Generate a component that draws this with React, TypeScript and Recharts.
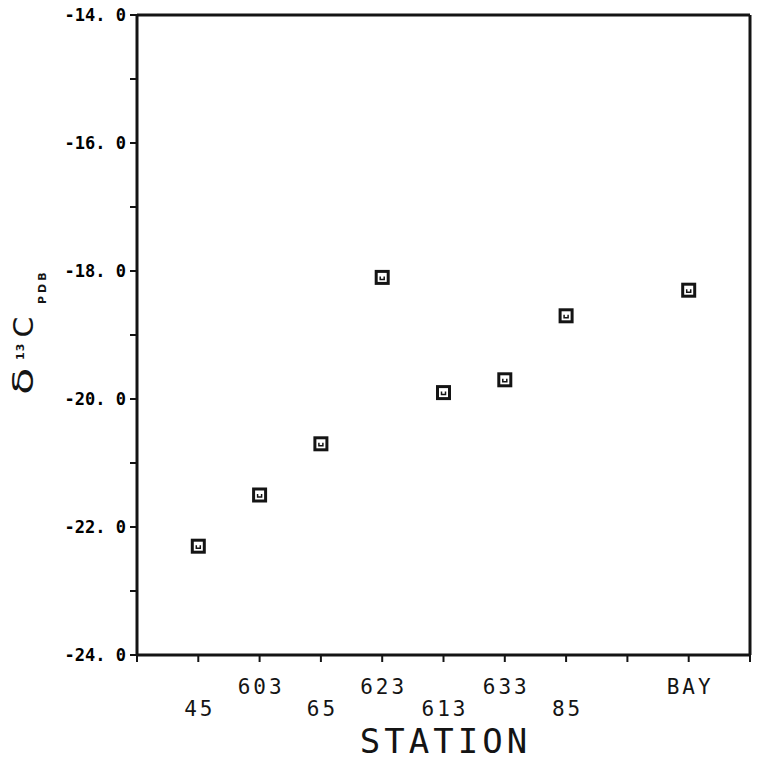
import { ScatterChart, Scatter, XAxis, YAxis } from "recharts";

// station order along the x axis and their d13C (POC) values
const stations = ["45", "603", "65", "623", "613", "633", "85", "BAY"];
const stationPos = [1, 2, 3, 4, 5, 6, 7, 9];
const d13C = [-22.3, -21.5, -20.7, -18.1, -19.9, -19.7, -18.7, -18.3];

const xTicks = [0, 1, 2, 3, 4, 5, 6, 7, 8, 9, 10];
const yTicks = [-24, -23, -22, -21, -20, -19, -18, -17, -16, -15, -14];
const yLabelled = [-24, -22, -20, -18, -16, -14];
// which stations sit on the upper row of the staggered labels
const upperRow = ["603", "623", "633", "BAY"];

const INK = "#141414";
const plotFont = "'DejaVu Sans Mono', monospace";

const points = stations.map((s, i) => ({ station: s, x: stationPos[i], y: d13C[i] }));

function StationTick(props: any) {
  const { x, y, payload } = props;
  const idx = stationPos.indexOf(payload.value);
  if (idx < 0) return <g />;
  const name = stations[idx];
  const up = upperRow.includes(name);
  return (
    <text
      x={x + 1.5}
      y={y + (up ? 30 : 52)}
      textAnchor="middle"
      fontFamily={plotFont}
      fontSize={21}
      letterSpacing={3}
      fill={INK}
    >
      {name}
    </text>
  );
}

function ValueTick(props: any) {
  const { x, y, payload } = props;
  if (!yLabelled.includes(payload.value)) return <g />;
  const label = payload.value.toFixed(1).replace(".", ". ");
  return (
    <text x={x} y={y + 6} textAnchor="end" fontFamily={plotFont} fontWeight="bold" fontSize={17} fill="#000">
      {label}
    </text>
  );
}

const NoTick = () => <g />;

function Marker(props: any) {
  const { cx, cy } = props;
  return (
    <g>
      <rect x={cx - 6} y={cy - 6} width={12} height={12} fill="#fff" stroke={INK} strokeWidth={3} />
      <path d={`M${cx - 2},${cy - 1} v3 h4 v-3`} fill="none" stroke={INK} strokeWidth={1.5} />
    </g>
  );
}

function YTitle(props: any) {
  const vb = props.viewBox || {};
  const cx = 33;
  const cy = vb.y + vb.height / 2 + 60;
  return (
    <g transform={`translate(${cx},${cy}) rotate(-90)`} fill={INK} fontFamily="'DejaVu Sans', sans-serif">
      <text x={0} y={0} fontSize={28} transform="scale(1.6,1)">δ</text>
      <text x={35} y={-9} fontSize={11} fontWeight="bold" letterSpacing={1}>13</text>
      <text x={50} y={0} fontSize={26} transform="scale(1.15,1)">C</text>
      <text x={91} y={13} fontSize={11} fontWeight="bold" letterSpacing={3}>PDB</text>
    </g>
  );
}

function XTitle(props: any) {
  const vb = props.viewBox || {};
  return (
    <text
      x={vb.x + vb.width / 2 + 2}
      y={vb.y + 98}
      textAnchor="middle"
      fontFamily={plotFont}
      fontSize={34}
      letterSpacing={4}
      fill={INK}
    >
      STATION
    </text>
  );
}

export default function App() {
  return (
    <div style={{ position: "absolute", left: 0, top: 0, width: 764, height: 767, background: "#fff" }}>
      <ScatterChart width={764} height={767} margin={{ top: 14, right: 13, bottom: 0, left: 37 }}>
        <XAxis
          type="number"
          dataKey="x"
          domain={[0, 10]}
          ticks={xTicks}
          interval={0}
          height={112}
          tickSize={7}
          tick={StationTick}
          axisLine={{ stroke: INK, strokeWidth: 3 }}
          tickLine={{ stroke: INK, strokeWidth: 2 }}
          label={{ content: XTitle }}
        />
        <XAxis
          xAxisId="top"
          orientation="top"
          type="number"
          domain={[0, 10]}
          ticks={xTicks}
          interval={0}
          height={1}
          tickSize={7}
          tick={NoTick}
          axisLine={{ stroke: INK, strokeWidth: 3 }}
          tickLine={{ stroke: INK, strokeWidth: 2 }}
        />
        <YAxis
          type="number"
          dataKey="y"
          domain={[-24, -14]}
          ticks={yTicks}
          interval={0}
          width={100}
          tickSize={7}
          tickMargin={4}
          tick={ValueTick}
          axisLine={{ stroke: INK, strokeWidth: 3 }}
          tickLine={{ stroke: INK, strokeWidth: 2 }}
          label={{ content: YTitle }}
        />
        <YAxis
          yAxisId="right"
          orientation="right"
          type="number"
          domain={[-24, -14]}
          ticks={yTicks}
          interval={0}
          width={1}
          tickSize={7}
          tick={NoTick}
          axisLine={{ stroke: INK, strokeWidth: 3 }}
          tickLine={{ stroke: INK, strokeWidth: 2 }}
        />
        <Scatter data={points} shape={Marker} isAnimationActive={false} />
      </ScatterChart>
    </div>
  );
}
